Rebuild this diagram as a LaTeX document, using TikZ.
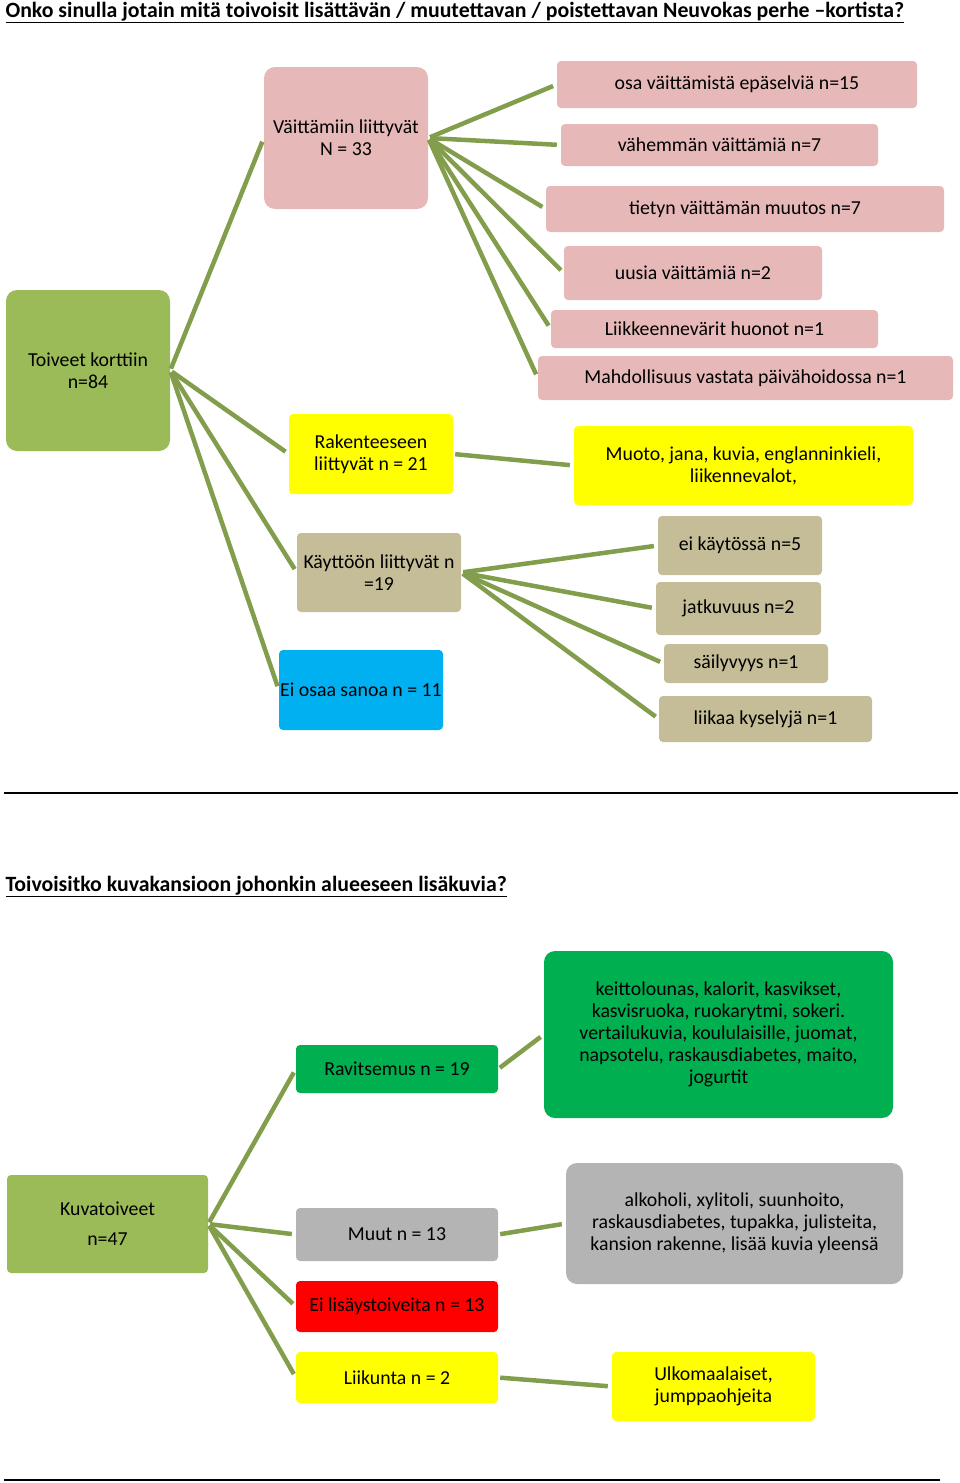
\documentclass[tikz,border=0pt]{standalone}
\usepackage{fontspec}
\setmainfont{Carlito}
\definecolor{pinkc}{HTML}{E6B9B8}
\definecolor{olive}{HTML}{9BBB59}
\definecolor{linec}{HTML}{829E4C}
\definecolor{tanc}{HTML}{C4BD97}
\definecolor{cyanc}{HTML}{00B0F0}
\definecolor{greenc}{HTML}{00B050}
\definecolor{grayc}{HTML}{B4B4B4}
\definecolor{yel}{HTML}{FFFF00}
\definecolor{redc}{HTML}{FF0000}
\tikzset{
  bx/.style={rounded corners=4pt, inner sep=0pt, align=center, font=\fontsize{19.8}{22}\selectfont},
  big/.style={bx, rounded corners=11pt},
  conn/.style={draw=linec, line width=4.5pt, shorten >=4pt, shorten <=2pt},
  ttl/.style={anchor=base west, font=\bfseries\fontsize{21.8}{25}\selectfont},
  rule/.style={line width=2pt}
}
\begin{document}
\begin{tikzpicture}[x=1pt,y=-1pt]
\useasboundingbox (0,0) rectangle (960,1483);
\node[ttl] (t1) at (2,17) {\underline{Onko sinulla jotain mitä toivoisit lisättävän / muutettavan / poistettavan Neuvokas perhe –kortista?}};

\node[big, fill=pinkc, minimum width=164pt, minimum height=142pt] (va) at (346,138) {Väittämiin liittyvät\\N = 33};
\node[bx, fill=pinkc, minimum width=360pt, minimum height=47pt] (p1) at (737,84.5) {osa väittämistä epäselviä n=15};
\node[bx, fill=pinkc, minimum width=317pt, minimum height=42pt] (p2) at (719.5,145) {vähemmän väittämiä n=7};
\node[bx, fill=pinkc, minimum width=398pt, minimum height=46pt] (p3) at (745,209) {tietyn väittämän muutos n=7};
\node[bx, fill=pinkc, minimum width=258pt, minimum height=54pt] (p4) at (693,273) {uusia väittämiä n=2};
\node[bx, fill=pinkc, minimum width=327pt, minimum height=38pt] (p5) at (714.5,329) {Liikkeennevärit huonot n=1};
\node[bx, fill=pinkc, minimum width=415pt, minimum height=44pt] (p6) at (745.5,378) {Mahdollisuus vastata päivähoidossa n=1};

\node[big, fill=olive, minimum width=164pt, minimum height=161pt] (to) at (88,370.5) {Toiveet korttiin\\n=84};
\node[bx, fill=yel, minimum width=164pt, minimum height=80pt] (ra) at (371,454) {Rakenteeseen\\liittyvät n = 21};
\node[bx, fill=yel, minimum width=339pt, minimum height=79pt] (mu) at (743.5,465.5) {Muoto, jana, kuvia, englanninkieli,\\liikennevalot,};
\node[bx, fill=tanc, minimum width=164pt, minimum height=79pt] (ka) at (379,572.5) {Käyttöön liittyvät n\\=19};
\node[bx, fill=cyanc, minimum width=164pt, minimum height=80pt] (eo) at (361,690) {Ei osaa sanoa n = 11};
\node[bx, fill=tanc, minimum width=164pt, minimum height=59pt] (k1) at (740,545.5) {ei käytössä n=5};
\node[bx, fill=tanc, minimum width=165pt, minimum height=53pt] (k2) at (738.5,608.5) {jatkuvuus n=2};
\node[bx, fill=tanc, minimum width=164pt, minimum height=39pt] (k3) at (746,663.5) {säilyvyys n=1};
\node[bx, fill=tanc, minimum width=213pt, minimum height=46pt] (k4) at (765.5,719) {liikaa kyselyjä n=1};

\foreach \t in {p1,p2,p3,p4,p5,p6} \draw[conn] (va.east) -- (\t.west);
\foreach \t in {va,ra,ka,eo} \draw[conn] (to.east) -- (\t.west);
\draw[conn] (ra.east) -- (mu.west);
\foreach \t in {k1,k2,k3,k4} \draw[conn] (ka.east) -- (\t.west);

\draw[rule] (4,793) -- (958,793);

\node[ttl] (t2) at (2,891) {\underline{Toivoisitko kuvakansioon johonkin alueeseen lisäkuvia?}};

\node[bx, fill=greenc, minimum width=202pt, minimum height=48pt] (rv) at (397,1069) {Ravitsemus n = 19};
\node[big, fill=greenc, minimum width=349pt, minimum height=167pt] (ke) at (718.5,1034.5) {keittolounas, kalorit, kasvikset,\\kasvisruoka, ruokarytmi, sokeri.\\vertailukuvia, koululaisille, juomat,\\napsotelu, raskausdiabetes, maito,\\jogurtit};
\node[bx, fill=olive, minimum width=201pt, minimum height=98pt] (kv) at (107.5,1224) {Kuvatoiveet\\[8pt]n=47};
\node[bx, fill=grayc, minimum width=202pt, minimum height=53pt] (mt) at (397,1234.5) {Muut n = 13};
\node[big, fill=grayc, minimum width=337pt, minimum height=121pt] (al) at (734.5,1223.5) {alkoholi, xylitoli, suunhoito,\\raskausdiabetes, tupakka, julisteita,\\kansion rakenne, lisää kuvia yleensä};
\node[bx, fill=redc, minimum width=202pt, minimum height=51pt] (el) at (397,1306.5) {Ei lisäystoiveita n = 13};
\node[bx, fill=yel, minimum width=202pt, minimum height=51pt] (li) at (397,1377.5) {Liikunta n = 2};
\node[bx, fill=yel, minimum width=203pt, minimum height=69pt] (ul) at (713.5,1386.5) {Ulkomaalaiset,\\jumppaohjeita};

\foreach \t in {rv,mt,el,li} \draw[conn] (kv.east) -- (\t.west);
\draw[conn] (rv.east) -- (ke.west);
\draw[conn] (mt.east) -- (al.west);
\draw[conn] (li.east) -- (ul.west);

\draw[rule] (4,1480) -- (940,1480);
\end{tikzpicture}
\end{document}
